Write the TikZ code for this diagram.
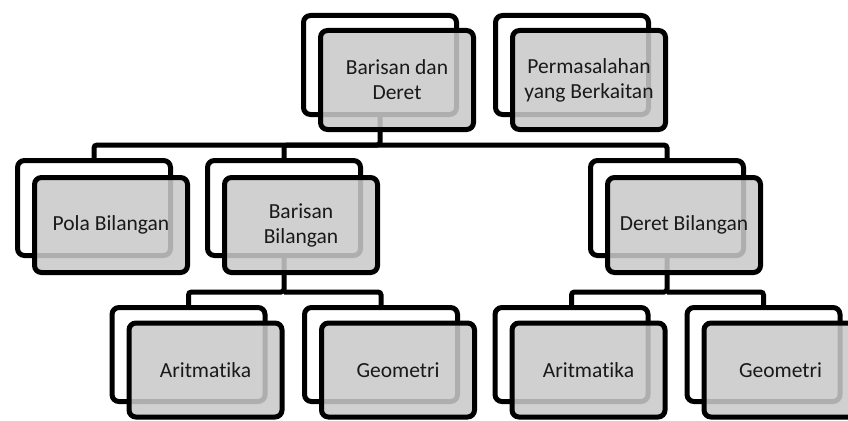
\documentclass[tikz,border=0pt]{standalone}
\usepackage{fontspec}
\setmainfont{Carlito}[Ligatures=NoCommon]
\begin{document}
\begin{tikzpicture}[x=1pt,y=-1pt,
  backbox/.style={draw=black, line width=5pt, rounded corners=7pt,
    minimum width=153pt, inner sep=0pt},
  frontbox/.style={backbox, fill=black!21, fill opacity=0.87, text opacity=1,
    align=center, font=\fontsize{21.5}{25}\selectfont, text=black!90},
  conn/.style={draw=black, line width=5pt, rounded corners=3pt}]
\useasboundingbox (0,0) rectangle (848,420);

% back frames
\node[backbox, minimum height=99pt] (topAb) at (380,65) {};
\node[backbox, minimum height=99pt] (topBb) at (572,65) {};
\node[backbox, minimum height=95pt] (polab) at (94,208) {};
\node[backbox, minimum height=95pt] (barb)  at (284,208) {};
\node[backbox, minimum height=95pt] (derb)  at (667,208) {};
\node[backbox, minimum height=94pt] (arAb)  at (188.5,354.5) {};
\node[backbox, minimum height=94pt] (geAb)  at (381,354.5) {};
\node[backbox, minimum height=94pt] (arBb)  at (571.5,354.5) {};
\node[backbox, minimum height=94pt] (geBb)  at (763.5,354.5) {};

% connector levels
\coordinate (bar1) at (0,145);
\coordinate (bar2) at (0,292);

\draw[conn] (topAb.south) -- (topAb.south |- bar1) -| (polab.north);
\draw[conn] (topAb.south |- bar1) -| (barb.north);
\draw[conn] (topAb.south |- bar1) -| (derb.north);

\draw[conn] (barb.south) -- (barb.south |- bar2) -| (arAb.north);
\draw[conn] (barb.south |- bar2) -| (geAb.north);

\draw[conn] (derb.south) -- (derb.south |- bar2) -| (arBb.north);
\draw[conn] (derb.south |- bar2) -| (geBb.north);

% front cards with labels
\node[frontbox, minimum height=99pt] (topA) at (397,80) {Barisan dan\\Deret};
\node[frontbox, minimum height=99pt] (topB) at (589,80) {Permasalahan\\yang Berkaitan};
\node[frontbox, minimum height=95pt] (pola) at (111,225) {Pola Bilangan};
\node[frontbox, minimum height=95pt] (bar)  at (301,225) {Barisan\\Bilangan};
\node[frontbox, minimum height=95pt] (der)  at (684,225) {Deret Bilangan};
\node[frontbox, minimum height=94pt] (arA)  at (205.5,370) {Aritmatika};
\node[frontbox, minimum height=94pt] (geA)  at (398,370) {Geometri};
\node[frontbox, minimum height=94pt] (arB)  at (588.5,370) {Aritmatika};
\node[frontbox, minimum height=94pt] (geB)  at (780.5,370) {Geometri};
\end{tikzpicture}
\end{document}
